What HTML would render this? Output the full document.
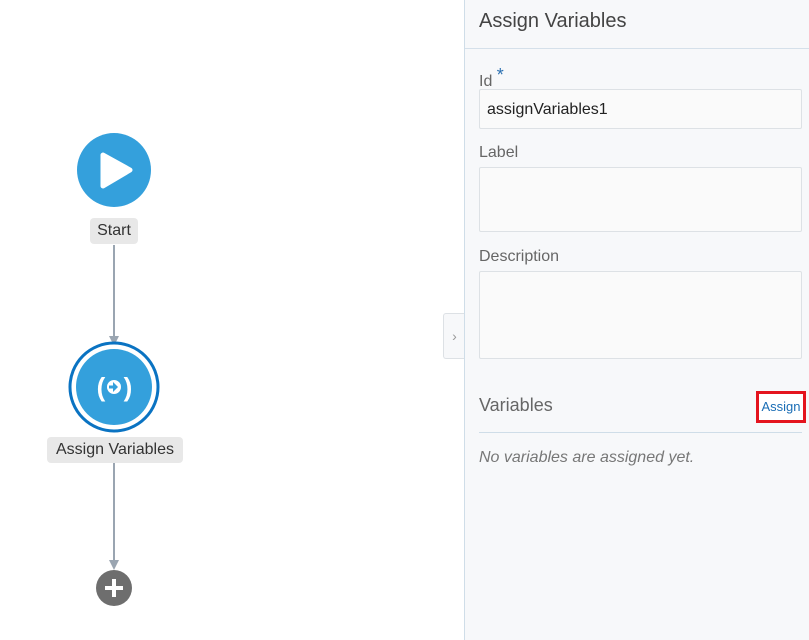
<!DOCTYPE html>
<html><head><style>
body{margin:0;width:809px;height:640px;background:#fff;font-family:"Liberation Sans",sans-serif;position:relative;overflow:hidden}
.a{position:absolute}
.lbl{background:#e8e8e8;border-radius:4px;color:#333;font-size:16px;text-align:center;line-height:26px}
.panel{left:464px;top:0;width:345px;height:640px;background:#f7f8fa;border-left:1px solid #cfdde8}
.fl{color:#666;font-size:16px}
.box{background:#fafafa;border:1px solid #dde1e5;border-radius:2px}
</style></head><body>
<svg class="a" style="left:0;top:0" width="440" height="640">
<line x1="114" y1="245" x2="114" y2="340" stroke="#9aa5b1" stroke-width="2"/>
<polygon points="109,336 119,336 114,346" fill="#9aa5b1"/>
<line x1="114" y1="463" x2="114" y2="563" stroke="#9aa5b1" stroke-width="2"/>
<polygon points="109,560 119,560 114,570" fill="#9aa5b1"/>
<circle cx="114" cy="170" r="37" fill="#34a0dc"/>
<polygon points="103,155 103,186 130,170" fill="#fff" stroke="#fff" stroke-width="5" stroke-linejoin="round"/>
<circle cx="114" cy="387" r="44" fill="#fff" stroke="#0a73c2" stroke-width="3"/>
<circle cx="114" cy="387" r="38" fill="#34a0dc"/>
<text x="101" y="396" text-anchor="middle" fill="#fff" font-size="26" font-family="Liberation Sans" font-weight="bold">(</text>
<text x="128" y="396" text-anchor="middle" fill="#fff" font-size="26" font-family="Liberation Sans" font-weight="bold">)</text>
<circle cx="114" cy="387" r="7" fill="#fff"/>
<polygon points="113,382 118,387 113,392" fill="#34a0dc"/>
<rect x="109" y="385.5" width="5" height="3" fill="#34a0dc"/>
<circle cx="114" cy="588" r="18" fill="#6e6e6e"/>
<rect x="105" y="586" width="18" height="4" fill="#fff"/>
<rect x="112" y="579" width="4" height="18" fill="#fff"/>
</svg>
<div class="a lbl" style="left:90px;top:218px;width:48px">Start</div>
<div class="a lbl" style="left:47px;top:437px;width:136px">Assign Variables</div>
<div class="a" style="left:443px;top:313px;width:21px;height:44px;background:#f7f8fa;border:1px solid #dde1e5;border-right:none;border-radius:3px 0 0 3px;color:#999;font-size:14px;line-height:44px;text-align:center">›</div>
<div class="a panel">
<div class="a" style="left:0;top:0;width:345px;height:48px;border-bottom:1px solid #d5e0ea"></div>
<div class="a" style="left:14px;top:10px;font-size:20px;color:#444">Assign Variables</div>
<div class="a fl" style="left:14px;top:65px">Id <span style="color:#2a6fb0;font-size:18px;vertical-align:5px">*</span></div>
<div class="a box" style="left:14px;top:89px;width:321px;height:38px"></div>
<div class="a" style="left:22px;top:101px;font-size:16px;color:#222">assignVariables1</div>
<div class="a fl" style="left:14px;top:144px">Label</div>
<div class="a box" style="left:14px;top:167px;width:321px;height:63px"></div>
<div class="a fl" style="left:14px;top:248px">Description</div>
<div class="a box" style="left:14px;top:271px;width:321px;height:86px"></div>
<div class="a fl" style="left:14px;top:395px;font-size:18px">Variables</div>
<div class="a" style="left:291px;top:391px;width:44px;height:26px;border:3px solid #e4141e;background:#fff;color:#1a6db5;font-size:13px;line-height:26px;text-align:center">Assign</div>
<div class="a" style="left:14px;top:432px;width:323px;height:1px;background:#cfdde8"></div>
<div class="a" style="left:14px;top:449px;font-size:16px;font-style:italic;color:#777">No variables are assigned yet.</div>
</div>
</body></html>
